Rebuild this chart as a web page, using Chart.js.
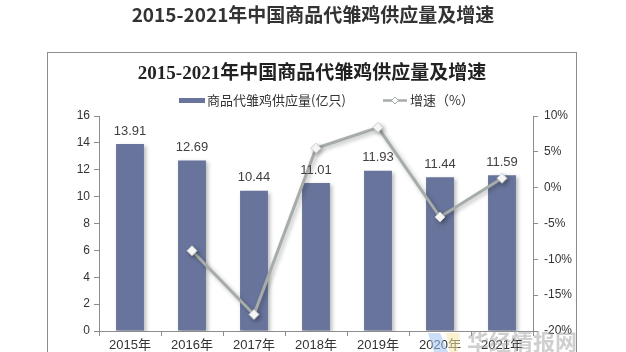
<!DOCTYPE html>
<html>
<head>
<meta charset="utf-8">
<script src="https://cdn.jsdelivr.net/npm/chart.js@4.4.1/dist/chart.umd.min.js"></script>
<style>
  html, body { margin: 0; padding: 0; background: #fff; }
  #wrap { position: relative; width: 626px; height: 352px; overflow: hidden; }
</style>
</head>
<body>
<div id="wrap"><canvas id="myChart" width="626" height="352"></canvas></div>
<script>
const years = ['2015年', '2016年', '2017年', '2018年', '2019年', '2020年', '2021年'];
const supply = [13.91, 12.69, 10.44, 11.01, 11.93, 11.44, 11.59];
const growth = [null, -8.8, -17.7, 5.5, 8.4, -4.1, 1.3];
const leftTicks = [0, 2, 4, 6, 8, 10, 12, 14, 16];
const rightTicks = [-20, -15, -10, -5, 0, 5, 10];

const titleText = '2015-2021年中国商品代雏鸡供应量及增速';
const sansFont = '"Liberation Sans", Arial, "Noto Sans CJK SC", sans-serif';
const barColor = '#68749b';
const lineColor = '#a6aca8';

// 外框、标题、图例、水印
const decorPlugin = {
    id: 'decor',
    beforeDraw(chart) {
        const ctx = chart.ctx;
        ctx.save();
        ctx.fillStyle = '#fff';
        ctx.fillRect(0, 0, chart.width, chart.height);
        ctx.strokeStyle = '#8c8c8c';
        ctx.lineWidth = 1;
        ctx.strokeRect(47.5, 52.5, 529, 400);

        ctx.textAlign = 'center';
        ctx.textBaseline = 'middle';
        ctx.fillStyle = '#333';
        ctx.font = 'bold 19px "Noto Sans CJK SC", sans-serif';
        ctx.fillText(titleText, 313, 15);

        ctx.fillStyle = '#222';
        ctx.font = 'bold 19px "Liberation Serif", "Noto Sans CJK SC", serif';
        ctx.fillText(titleText, 312, 74);

        // legend
        ctx.font = '13px "Noto Sans CJK SC", sans-serif';
        ctx.fillStyle = '#333';
        ctx.textAlign = 'left';
        ctx.fillStyle = barColor;
        ctx.fillRect(179, 98, 26, 5);
        ctx.fillStyle = '#333';
        ctx.fillText('商品代雏鸡供应量(亿只)', 207, 100);
        ctx.strokeStyle = lineColor;
        ctx.lineWidth = 2.5;
        ctx.beginPath();
        ctx.moveTo(383, 100.5);
        ctx.lineTo(407, 100.5);
        ctx.stroke();
        ctx.fillStyle = '#fff';
        ctx.lineWidth = 1;
        ctx.beginPath();
        ctx.moveTo(395, 97);
        ctx.lineTo(398.5, 100.5);
        ctx.lineTo(395, 104);
        ctx.lineTo(391.5, 100.5);
        ctx.closePath();
        ctx.fill();
        ctx.stroke();
        ctx.fillStyle = '#333';
        ctx.fillText('增速（%）', 410, 100);
        ctx.restore();
    },
    afterDraw(chart) {
        const ctx = chart.ctx;
        ctx.save();
        ctx.globalAlpha = 0.55;
        ctx.fillStyle = '#9ec3f2';
        ctx.beginPath();
        ctx.moveTo(428, 333); ctx.lineTo(440, 333); ctx.lineTo(448, 352); ctx.lineTo(434, 352);
        ctx.closePath(); ctx.fill();
        ctx.fillStyle = '#f6e7a6';
        ctx.beginPath();
        ctx.moveTo(446, 333); ctx.lineTo(460, 333); ctx.lineTo(458, 352); ctx.lineTo(450, 352);
        ctx.closePath(); ctx.fill();
        ctx.globalAlpha = 0.5;
        ctx.fillStyle = '#a0a0a0';
        ctx.font = 'bold 22px "Noto Sans CJK SC", sans-serif';
        ctx.textAlign = 'left';
        ctx.textBaseline = 'middle';
        ctx.fillText('华经情报网', 467, 342);
        ctx.restore();
    }
};

// 柱子和折线阴影
const shadowPlugin = {
    id: 'shadow',
    beforeDatasetDraw(chart) {
        const ctx = chart.ctx;
        ctx.save();
        ctx.shadowColor = 'rgba(0,0,0,0.28)';
        ctx.shadowBlur = 4;
        ctx.shadowOffsetX = 2;
        ctx.shadowOffsetY = 2;
    },
    afterDatasetDraw(chart) {
        chart.ctx.restore();
    }
};

// 柱顶数值
const valuePlugin = {
    id: 'values',
    afterDatasetsDraw(chart) {
        const ctx = chart.ctx;
        const meta = chart.getDatasetMeta(1);
        ctx.save();
        ctx.font = '13px ' + sansFont;
        ctx.fillStyle = '#404040';
        ctx.textAlign = 'center';
        ctx.textBaseline = 'middle';
        meta.data.forEach((bar, i) => {
            ctx.fillText(supply[i].toFixed(2), bar.x, bar.y - 13);
        });
        ctx.restore();
    }
};

const ctx = document.getElementById('myChart');
new Chart(ctx, {
    data: {
        labels: years,
        datasets: [{
            type: 'line',
            label: '增速（%）',
            data: growth,
            yAxisID: 'y1',
            borderColor: lineColor,
            borderWidth: 3,
            pointStyle: 'rectRot',
            pointRadius: 5,
            pointBackgroundColor: '#fff',
            pointBorderColor: '#c8ccc9',
            pointBorderWidth: 1,
            tension: 0,
            order: 0
        }, {
            type: 'bar',
            label: '商品代雏鸡供应量(亿只)',
            data: supply,
            yAxisID: 'y',
            backgroundColor: barColor,
            categoryPercentage: 1,
            barPercentage: 0.45,
            order: 1
        }]
    },
    options: {
        responsive: false,
        animation: false,
        layout: { padding: { top: 116, left: 0, right: 0, bottom: 0 } },
        plugins: {
            legend: { display: false },
            title: { display: false },
            tooltip: { enabled: false }
        },
        scales: {
            x: {
                grid: { offset: true, drawOnChartArea: false, drawTicks: true, tickLength: 5, color: '#8c8c8c' },
                border: { color: '#8c8c8c' },
                ticks: { color: '#333', font: { size: 13, family: sansFont }, padding: 2, maxRotation: 0 },
                afterFit(scale) { scale.height = 21; }
            },
            y: {
                position: 'left',
                min: 0, max: 16,
                afterBuildTicks(scale) { scale.ticks = leftTicks.map(v => ({ value: v })); },
                grid: { drawOnChartArea: false, tickLength: 5, color: '#8c8c8c' },
                border: { color: '#8c8c8c' },
                ticks: { color: '#333', font: { size: 12, family: sansFont }, padding: 4 },
                afterFit(scale) { scale.width = 99; }
            },
            y1: {
                position: 'right',
                min: -20, max: 10,
                afterBuildTicks(scale) { scale.ticks = rightTicks.map(v => ({ value: v })); },
                grid: { drawOnChartArea: false, tickLength: 5, color: '#8c8c8c' },
                border: { color: '#8c8c8c' },
                ticks: { color: '#333', font: { size: 12, family: sansFont }, padding: 6, callback: v => v + '%' },
                afterFit(scale) { scale.width = 93; }
            }
        }
    },
    plugins: [decorPlugin, shadowPlugin, valuePlugin]
});
</script>
</body>
</html>
